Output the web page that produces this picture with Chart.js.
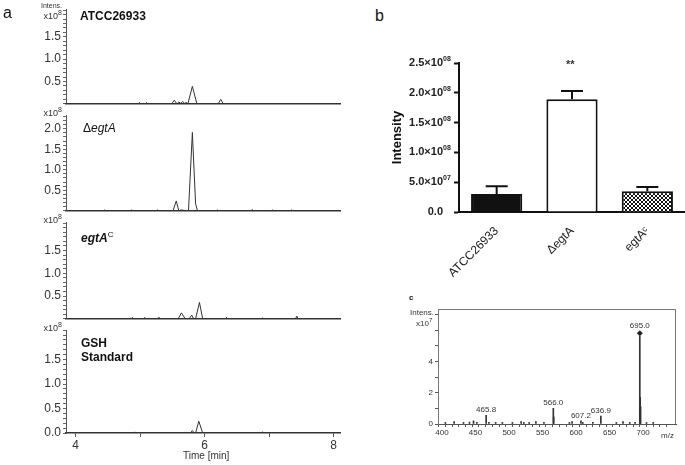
<!DOCTYPE html>
<html>
<head>
<meta charset="utf-8">
<script src="https://cdn.jsdelivr.net/npm/chart.js@4"></script>
<style>
    body { margin:0; background:#fff; width:685px; height:465px; position:relative; overflow:hidden;
           font-family:"Liberation Sans", Arial, sans-serif; color:#111; }
    canvas { position:absolute; }
    .t { position:absolute; white-space:nowrap; line-height:1; }
    .r { text-align:right; }
</style>
</head>
<body>

<!-- panel a -->
<canvas id="chrom1" width="345" height="113" style="left:0px;top:0px"></canvas>
<canvas id="chrom2" width="345" height="114" style="left:0px;top:106px"></canvas>
<canvas id="chrom3" width="345" height="115" style="left:0px;top:213px"></canvas>
<canvas id="chrom4" width="345" height="134" style="left:0px;top:321px"></canvas>
<!-- panel b -->
<canvas id="barB" width="300" height="245" style="left:385px;top:45px"></canvas>
<!-- panel c -->
<canvas id="specC" width="290" height="140" style="left:395px;top:300px"></canvas>

<div class="t" style="left:3px;top:5px;font-size:16px">a</div>
<div class="t r" style="left:20px;width:42px;top:2px;font-size:7px;color:#333">Intens.</div>
<div class="t r" style="left:20px;width:42px;top:9px;font-size:9px;color:#333">x10<sup style="font-size:7px">8</sup></div>
<div class="t r" style="left:20px;width:42px;top:106px;font-size:9px;color:#333">x10<sup style="font-size:7px">8</sup></div>
<div class="t r" style="left:20px;width:42px;top:213px;font-size:9px;color:#333">x10<sup style="font-size:7px">8</sup></div>
<div class="t r" style="left:20px;width:42px;top:321px;font-size:9px;color:#333">x10<sup style="font-size:7px">8</sup></div>
<div class="t" style="left:80px;top:10px;font-size:12px;font-weight:bold">ATCC26933</div>
<div class="t" style="left:83px;top:122px;font-size:12px">Δ<i>egtA</i></div>
<div class="t" style="left:81px;top:231px;font-size:12px;font-weight:bold"><i>egtA</i><sup style="font-size:8px;font-weight:normal">C</sup></div>
<div class="t" style="left:81px;top:337px;font-size:12px;font-weight:bold">GSH</div>
<div class="t" style="left:81px;top:351px;font-size:12px;font-weight:bold">Standard</div>
<div class="t" style="left:183px;top:451px;font-size:10px;color:#333">Time [min]</div>

<div class="t" style="left:375px;top:8px;font-size:16px">b</div>
<div class="t" id="stars" style="font-size:11px;font-weight:bold;color:#333">**</div>

<div class="t" style="left:409px;top:294px;font-size:8px;font-weight:bold">c</div>
<div class="t" style="left:410px;top:309px;font-size:8px;color:#333">Intens.</div>
<div class="t" style="left:416px;top:317px;font-size:8px;color:#333">x10<sup style="font-size:6px">7</sup></div>
<div class="t" style="left:661px;top:432px;font-size:8px;color:#333">m/z</div>

<script>
// ── Data ──────────────────────────────────────
// a: chromatograms, time [min] vs intensity (x10^8)
const timeAtcc = [3.85, 4.97, 4.99, 5.01, 5.08, 5.10, 5.12, 5.49, 5.53, 5.57, 5.60, 5.63, 5.66, 5.69, 5.72, 5.74, 5.81, 5.88, 5.91, 6.21, 6.25, 6.29, 8.1];
const intAtcc  = [0,    0,    0.03, 0,    0,    0.03, 0,    0,    0.08, 0,    0.04, 0.01, 0.05, 0.01, 0.03, 0,    0.39, 0,    0,    0,    0.10, 0,    0];

const timeDelta = [3.85, 4.43, 4.45, 4.47, 4.85, 4.87, 4.89, 5.25, 5.27, 5.29, 5.51, 5.56, 5.60, 5.63, 5.75, 5.81, 5.86, 5.89, 6.18, 6.20, 6.22, 6.72, 6.74, 6.76, 7.03, 7.05, 7.07, 7.33, 7.35, 7.37, 8.1];
const intDelta  = [0,    0,    0.02, 0,    0,    0.02, 0,    0,    0.02, 0,    0,    0.24, 0,    0.02, 0,    1.91, 0.17, 0,    0,    0.02, 0,    0,    0.03, 0,    0,    0.02, 0,    0,    0.02, 0,    0];

const timeComp = [3.85, 4.86, 4.88, 4.90, 5.05, 5.07, 5.09, 5.26, 5.29, 5.32, 5.59, 5.64, 5.70, 5.76, 5.80, 5.83, 5.86, 5.92, 5.97, 6.32, 6.34, 6.36, 6.88, 6.90, 6.92, 7.41, 7.43, 7.45, 8.1];
const intComp  = [0,    0,    0.03, 0,    0,    0.03, 0,    0,    0.03, 0,    0,    0.13, 0,    0,    0.08, 0,    0,    0.36, 0,    0,    0.03, 0,    0,    0.02, 0,    0,    0.06, 0,    0];

const timeGsh = [3.85, 4.90, 4.92, 4.94, 5.20, 5.22, 5.24, 5.40, 5.42, 5.44, 5.78, 5.81, 5.84, 5.86, 5.91, 5.97, 6.38, 6.40, 6.42, 6.88, 6.90, 6.92, 8.1];
const intGsh  = [0,    0,    0.02, 0,    0,    0.01, 0,    0,    0.01, 0,    0,    0.05, 0,    0,    0.24, 0,    0,    0.01, 0,    0,    0.02, 0,    0];

// b: bar chart
const strains    = ['ATCC26933', 'ΔegtA', 'egtAᶜ'];
const meanInt    = [3.0e7, 1.89e8, 3.5e7];
const semInt     = [1.3e7, 1.4e7, 0.7e7];
const barYBase   = ['0.0', '5.0×10', '1.0×10', '1.5×10', '2.0×10', '2.5×10'];
const barYExp    = ['', '07', '08', '08', '08', '08'];

// c: mass spectrum, m/z vs intensity (x10^7)
const specMz  = [405, 418, 432, 441, 447, 452, 465.8, 470, 480, 490, 505, 518, 522, 530, 540, 552, 566.0, 566.6, 590, 594, 607.2, 610, 625, 636.9, 660, 670, 680, 688, 695.0, 695.6, 696.2, 705, 715];
const specInt = [0.1, 0.15, 0.1, 0.12, 0.2, 0.1, 0.55, 0.1, 0.1, 0.1, 0.1, 0.15, 0.1, 0.1, 0.15, 0.1, 1.0, 0.45, 0.1, 0.15, 0.2, 0.1, 0.1, 0.5, 0.1, 0.15, 0.1, 0.1, 5.6, 1.7, 1.1, 0.1, 0.1];
const peakLabels = [465.8, 566.0, 607.2, 636.9, 695.0];
const parentIon  = 695.0;

// ── Helpers ───────────────────────────────────
const near = (v, s) => Math.abs(v / s - Math.round(v / s)) < 1e-6;
const toXY = (xs, ys) => xs.map((x, i) => ({ x, y: ys[i] }));
// tick colour only on "round" tick values
const tickCol = (step, col) => c => (c.tick && near(c.tick.value, step) ? col : 'transparent');

function makeChrom(id, times, values, yMax, labelMax, isLast) {
    new Chart(document.getElementById(id), {
        type: 'line',
        data: { datasets: [{ data: toXY(times, values), borderColor: '#333', borderWidth: 1, pointRadius: 0, tension: 0 }] },
        options: {
            responsive: false, animation: false,
            layout: { padding: { top: 5, right: 5, left: 0, bottom: 0 } },
            plugins: { legend: { display: false }, tooltip: { enabled: false } },
            scales: {
                x: {
                    type: 'linear', min: 3.85, max: 8.1,
                    afterFit: s => { s.height = isLast ? 22 : 2; },
                    border: { display: true, color: '#333', width: 1.5 },
                    grid: { display: isLast, drawOnChartArea: false, tickLength: 4, tickColor: tickCol(1, '#555') },
                    ticks: { display: isLast, stepSize: 1, includeBounds: false, autoSkip: false, maxRotation: 0,
                             padding: 1, color: '#333', font: { family: 'Liberation Sans', size: 12 },
                             callback: v => (near(v, 2) ? String(v) : '') }
                },
                y: {
                    min: 0, max: yMax,
                    afterFit: s => { s.width = 66; },
                    border: { display: true, color: '#555', width: 1 },
                    grid: { drawOnChartArea: false, tickLength: 3, tickColor: tickCol(0.1, '#666') },
                    ticks: { stepSize: 0.1, includeBounds: false, autoSkip: false, padding: 2, color: '#333',
                             font: { family: 'Liberation Sans', size: 12 },
                             callback: v => {
                                 if (!near(v, 0.5) || v > labelMax + 1e-6) return '';
                                 if (v === 0 && !isLast) return '';
                                 return v.toFixed(1);
                             } }
                }
            }
        }
    });
}

makeChrom('chrom1', timeAtcc, intAtcc, 2.12, 1.5, false);
makeChrom('chrom2', timeDelta, intDelta, 2.33, 2.0, false);
makeChrom('chrom3', timeComp, intComp, 2.12, 1.5, false);
makeChrom('chrom4', timeGsh, intGsh, 2.10, 1.5, true);

// ── Panel b ───────────────────────────────────
function checker() {
    const c = document.createElement('canvas');
    c.width = 4; c.height = 4;
    const g = c.getContext('2d');
    g.fillStyle = '#fff'; g.fillRect(0, 0, 4, 4);
    g.fillStyle = '#111'; g.fillRect(0, 0, 2, 2); g.fillRect(2, 2, 2, 2);
    return g.createPattern(c, 'repeat');
}

const errorBars = {
    id: 'errorBars',
    afterDatasetsDraw(chart) {
        const { ctx } = chart;
        const meta = chart.getDatasetMeta(0);
        const ys = chart.scales.y;
        ctx.save();
        ctx.strokeStyle = '#111';
        ctx.lineWidth = 2;
        meta.data.forEach((bar, i) => {
            const top = ys.getPixelForValue(meanInt[i] + semInt[i]);
            ctx.beginPath();
            ctx.moveTo(bar.x, bar.y);
            ctx.lineTo(bar.x, top);
            ctx.moveTo(bar.x - 11, top);
            ctx.lineTo(bar.x + 11, top);
            ctx.stroke();
        });
        ctx.restore();
    }
};

// small raised exponent after each "×10" tick label
const tickExponents = {
    id: 'tickExponents',
    afterDraw(chart) {
        const { ctx } = chart;
        const ys = chart.scales.y;
        ctx.save();
        ctx.fillStyle = '#222';
        ctx.font = 'bold 7px "Liberation Sans"';
        ctx.textAlign = 'left';
        ctx.textBaseline = 'middle';
        ys.ticks.forEach((t, i) => {
            if (!barYExp[i]) return;
            ctx.fillText(barYExp[i], ys.right - 5 - 11, ys.getPixelForValue(t.value) - 4);
        });
        ctx.restore();
    }
};

const barChart = new Chart(document.getElementById('barB'), {
    type: 'bar',
    data: {
        labels: strains,
        datasets: [{
            data: meanInt,
            backgroundColor: ['#111', '#fff', checker()],
            borderColor: '#111', borderWidth: 2,
            categoryPercentage: 1, barPercentage: 0.68
        }]
    },
    options: {
        responsive: false, animation: false,
        layout: { padding: { top: 18, right: 0, left: 0, bottom: 0 } },
        plugins: { legend: { display: false }, tooltip: { enabled: false } },
        scales: {
            x: {
                afterFit: s => { s.height = 78; },
                border: { display: true, color: '#111', width: 2 },
                grid: { display: false },
                ticks: { minRotation: 45, maxRotation: 45, color: '#222', padding: 4,
                         font: { family: 'Liberation Sans', size: 12 } }
            },
            y: {
                min: 0, max: 2.5e8,
                afterFit: s => { s.width = 74; },
                title: { display: true, text: 'Intensity', color: '#111', padding: { top: 5, bottom: 0 },
                         font: { family: 'Liberation Sans', size: 13, weight: 'bold' } },
                border: { display: true, color: '#111', width: 2 },
                grid: { drawOnChartArea: false, tickLength: 5, tickColor: '#111', tickWidth: 2 },
                ticks: { stepSize: 5e7, color: '#222', padding: 11,
                         font: { family: 'Liberation Sans', size: 11, weight: 'bold' },
                         callback: (v, i) => barYBase[i] }
            }
        }
    },
    plugins: [errorBars, tickExponents]
});

// significance stars above the ΔegtA bar
{
    const bar = barChart.getDatasetMeta(0).data[1];
    const top = barChart.scales.y.getPixelForValue(meanInt[1] + semInt[1]);
    const el = document.getElementById('stars');
    el.style.left = (385 + bar.x - 6) + 'px';
    el.style.top = (45 + top - 32) + 'px';
}

// ── Panel c ───────────────────────────────────
const frame = {
    id: 'frame',
    afterDraw(chart) {
        const { ctx, chartArea: a } = chart;
        ctx.save();
        ctx.strokeStyle = '#777';
        ctx.lineWidth = 1;
        ctx.beginPath();
        ctx.moveTo(a.left, a.top + 0.5);
        ctx.lineTo(a.right - 0.5, a.top + 0.5);
        ctx.lineTo(a.right - 0.5, a.bottom);
        ctx.stroke();
        ctx.restore();
    }
};

const diamondY = specInt[specMz.indexOf(parentIon)] + 0.2;

const specChart = new Chart(document.getElementById('specC'), {
    type: 'bar',
    data: {
        datasets: [
            { data: toXY(specMz, specInt), backgroundColor: '#333', barThickness: 1 },
            { type: 'line', data: [{ x: parentIon, y: diamondY }],
              showLine: false, pointStyle: 'rectRot', pointRadius: 3, borderWidth: 0,
              backgroundColor: '#222', borderColor: '#222' }
        ]
    },
    options: {
        responsive: false, animation: false,
        layout: { padding: { top: 9, right: 9, left: 0, bottom: 0 } },
        plugins: { legend: { display: false }, tooltip: { enabled: false } },
        scales: {
            x: {
                type: 'linear', min: 394, max: 749, offset: false,
                afterFit: s => { s.height = 16; },
                border: { display: true, color: '#555', width: 1 },
                grid: { drawOnChartArea: false, tickLength: 3, tickColor: tickCol(10, '#555') },
                ticks: { stepSize: 10, includeBounds: false, autoSkip: false, maxRotation: 0, padding: 1,
                         color: '#333', font: { family: 'Liberation Sans', size: 8 },
                         callback: v => (near(v, 50) && v <= 700 ? String(v) : '') }
            },
            y: {
                min: 0, max: 7.35,
                afterFit: s => { s.width = 43; },
                border: { display: true, color: '#777', width: 1 },
                grid: { drawOnChartArea: false, tickLength: 3, tickColor: tickCol(1, '#555') },
                ticks: { stepSize: 1, includeBounds: false, autoSkip: false, padding: 2, color: '#333',
                         font: { family: 'Liberation Sans', size: 8 },
                         callback: v => (near(v, 2) && v <= 4 ? String(v) : '') }
            }
        }
    },
    plugins: [frame]
});

// peak labels positioned from the chart scales
peakLabels.forEach(mz => {
    const isParent = mz === parentIon;
    const h = isParent ? diamondY : specInt[specMz.indexOf(mz)];
    const px = 395 + specChart.scales.x.getPixelForValue(mz);
    const py = 300 + specChart.scales.y.getPixelForValue(h) - (isParent ? 11 : 9);
    const el = document.createElement('div');
    el.className = 't';
    el.style.cssText = `left:${px - 11}px;top:${py}px;width:22px;text-align:center;font-size:8px;color:#333`;
    el.textContent = mz.toFixed(1);
    document.body.appendChild(el);
});
</script>
</body>
</html>
